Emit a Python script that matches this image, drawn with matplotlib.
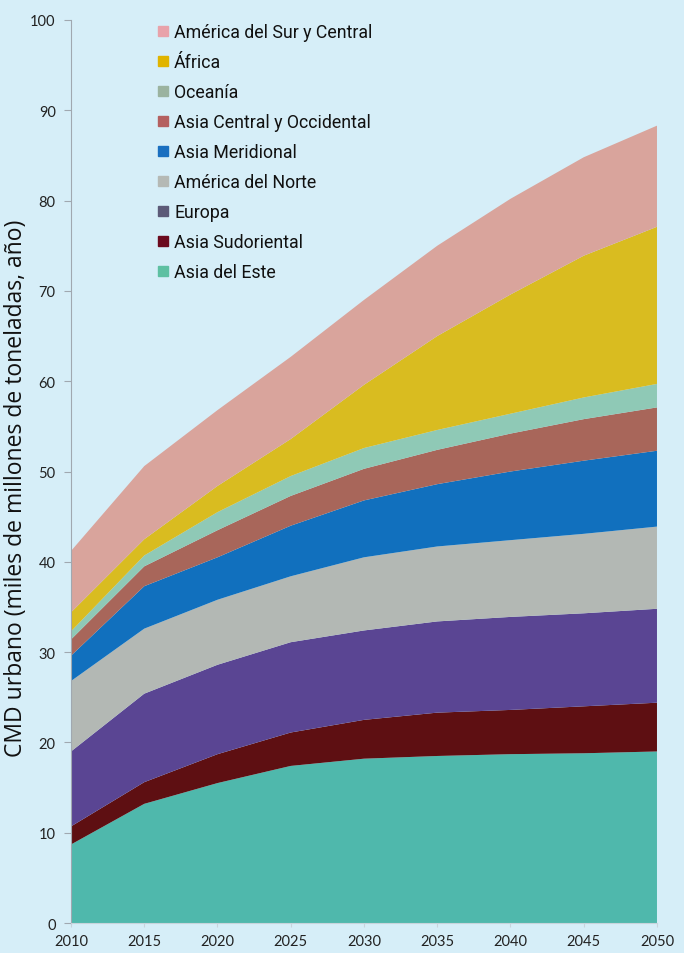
import matplotlib
matplotlib.use("Agg")
import matplotlib.pyplot as plt
from matplotlib.lines import Line2D

# Urban CMD by region, thousands of millions of tonnes per year
years = [2010, 2015, 2020, 2025, 2030, 2035, 2040, 2045, 2050]

asia_este = [8.7, 13.2, 15.5, 17.4, 18.2, 18.5, 18.7, 18.8, 19.0]
asia_sudoriental = [2.0, 2.4, 3.2, 3.7, 4.3, 4.8, 4.9, 5.2, 5.4]
europa = [8.3, 9.8, 9.9, 10.0, 9.9, 10.1, 10.3, 10.3, 10.4]
america_norte = [7.8, 7.2, 7.2, 7.3, 8.1, 8.3, 8.5, 8.8, 9.1]
asia_meridional = [2.8, 4.7, 4.7, 5.6, 6.3, 6.9, 7.6, 8.1, 8.4]
asia_central_occ = [1.8, 2.2, 3.0, 3.3, 3.5, 3.8, 4.2, 4.6, 4.8]
oceania = [0.9, 1.2, 2.0, 2.2, 2.3, 2.2, 2.2, 2.4, 2.6]
africa = [2.1, 1.8, 2.9, 4.1, 7.0, 10.4, 13.2, 15.7, 17.4]
america_sur_central = [6.8, 8.1, 8.4, 9.1, 9.4, 10.0, 10.6, 10.9, 11.2]

labels = ["Asia del Este", "Asia Sudoriental", "Europa", "América del Norte",
          "Asia Meridional", "Asia Central y Occidental", "Oceanía", "África",
          "América del Sur y Central"]
series = [asia_este, asia_sudoriental, europa, america_norte, asia_meridional,
          asia_central_occ, oceania, africa, america_sur_central]
colors = ["#4fb8ac", "#5e0f12", "#5a4593", "#b3b8b4", "#1170be",
          "#a8665a", "#8fc9b6", "#d9bc20", "#d9a49c"]
legend_colors = ["#5ec0a2", "#6b0a1e", "#5c5a78", "#b5b9b5", "#1a6fc0",
                 "#b46060", "#9bb3a0", "#e0b400", "#e8a2aa"]

bg = "#d6eef8"
fig = plt.figure(figsize=(6.84, 9.54), dpi=100, facecolor=bg)
ax = fig.add_axes([0.1038, 0.0314, 0.8567, 0.9466], facecolor=bg)

ax.stackplot(years, *series, colors=colors, linewidth=0)

ax.set_xlim(2010, 2050)
ax.set_ylim(0, 100)
ax.set_xticks(range(2010, 2051, 5))
ax.set_yticks(range(0, 101, 10))

for lab in ax.get_xticklabels() + ax.get_yticklabels():
    lab.set_fontfamily(["Lato", "DejaVu Sans"])
    lab.set_fontsize(10.5)
    lab.set_color("#222222")

ax.set_ylabel("CMD urbano (miles de millones de toneladas, año)",
              family=["Open Sans", "DejaVu Sans"], fontsize=16.5, color="#111111")
ax.yaxis.set_label_coords(-0.073, 0.483)

for side in ("top", "right"):
    ax.spines[side].set_visible(False)
ax.spines["left"].set_color("#a0a8b0")
ax.spines["bottom"].set_color("#c8d4dc")
ax.tick_params(axis="y", length=5, color="#a0a8b0", pad=6)
ax.tick_params(axis="x", length=3, color="#c8d4dc", pad=5)

handles = [Line2D([], [], linestyle="none", marker="s", markersize=7,
                  markerfacecolor=c, markeredgecolor=c)
           for c in legend_colors[::-1]]
leg = ax.legend(handles, labels[::-1], loc="upper left",
                bbox_to_anchor=(0.135, 1.004), frameon=False,
                handlelength=0.7, handletextpad=0.25, labelspacing=0.67,
                borderaxespad=0,
                prop=dict(family=["Roboto", "DejaVu Sans"], size=12.8))
for t in leg.get_texts():
    t.set_color("#111111")

fig.savefig("out.png", dpi=100, facecolor=bg)
